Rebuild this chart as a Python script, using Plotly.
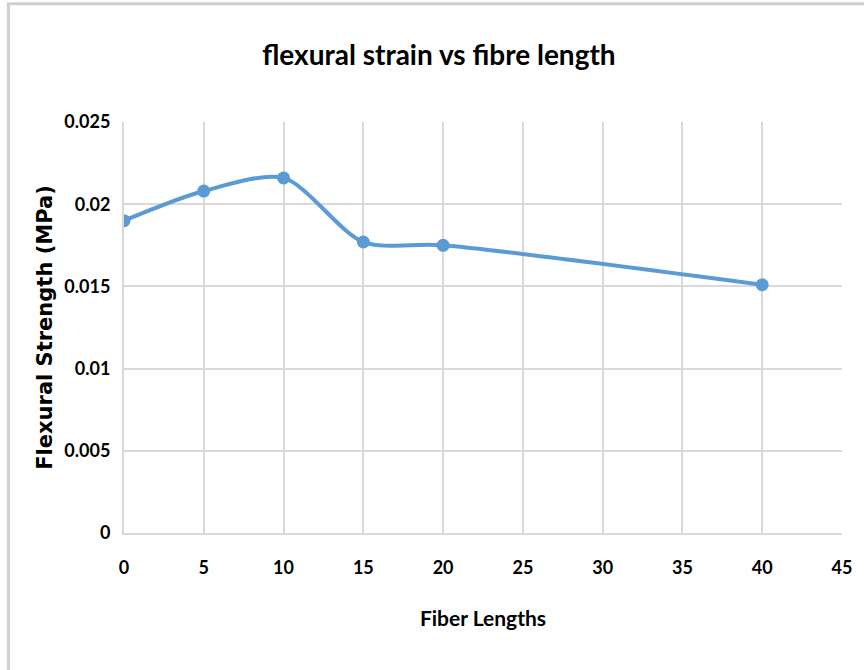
import plotly.graph_objects as go

# Flexural strength measured at each fibre length
fiber_length = [0, 5, 10, 15, 20, 40]
flexural_strength = [0.0190, 0.0208, 0.0216, 0.0177, 0.0175, 0.0151]

x_ticks = [0, 5, 10, 15, 20, 25, 30, 35, 40, 45]
y_ticks = [0, 0.005, 0.01, 0.015, 0.02, 0.025]
y_tick_text = ["0", "0.005", "0.01", "0.015", "0.02", "0.025"]

line_color = "#5B9BD5"
grid_color = "#D9D9D9"
label_font = "Lato"

fig = go.Figure()
fig.add_trace(go.Scatter(
    x=fiber_length,
    y=flexural_strength,
    mode="lines+markers",
    line=dict(color=line_color, width=4, shape="spline", smoothing=0.8),
    marker=dict(color=line_color, size=13),
    showlegend=False,
    hoverinfo="x+y",
))

fig.update_layout(
    width=864,
    height=670,
    margin=dict(l=124, r=15, t=122, b=137),
    paper_bgcolor="white",
    plot_bgcolor="white",
    title=dict(
        text="<b>flexural strain vs fibre length</b>",
        x=0.508, xanchor="center",
        y=0.918, yanchor="middle",
        font=dict(family=label_font, size=28, color="#000000"),
    ),
    xaxis=dict(
        range=[0, 45],
        tickmode="array",
        tickvals=x_ticks,
        ticktext=[f"<b>{v}</b>" for v in x_ticks],
        tickfont=dict(family=label_font, size=18, color="#000000"),
        showgrid=True, gridcolor=grid_color, gridwidth=2,
        showline=True, linecolor=grid_color, linewidth=2,
        zeroline=False,
        ticks="outside", ticklen=17, tickcolor="rgba(0,0,0,0)",
        title=dict(
            text="<b>Fiber Lengths</b>",
            font=dict(family=label_font, size=21, color="#000000"),
            standoff=35,
        ),
    ),
    yaxis=dict(
        range=[0, 0.025],
        tickmode="array",
        tickvals=y_ticks,
        ticktext=[f"<b>{t}</b>" for t in y_tick_text],
        tickfont=dict(family=label_font, size=18, color="#000000"),
        showgrid=True, gridcolor=grid_color, gridwidth=2,
        showline=True, linecolor=grid_color, linewidth=2,
        zeroline=False,
        ticks="outside", ticklen=8, tickcolor="rgba(0,0,0,0)",
        title=dict(
            text="<b>Flexural Strength (MPa)</b>",
            font=dict(family="DejaVu Sans", size=21, color="#000000"),
            standoff=6,
        ),
    ),
)

# Chart-area frame along the left and top edges
fig.add_shape(
    type="rect", xref="paper", yref="paper",
    x0=-0.161, x1=1.05, y0=-0.5, y1=1.288,
    line=dict(color="#D0D0D0", width=3),
    fillcolor="rgba(0,0,0,0)",
    layer="below",
)

fig.write_html("out.html")
